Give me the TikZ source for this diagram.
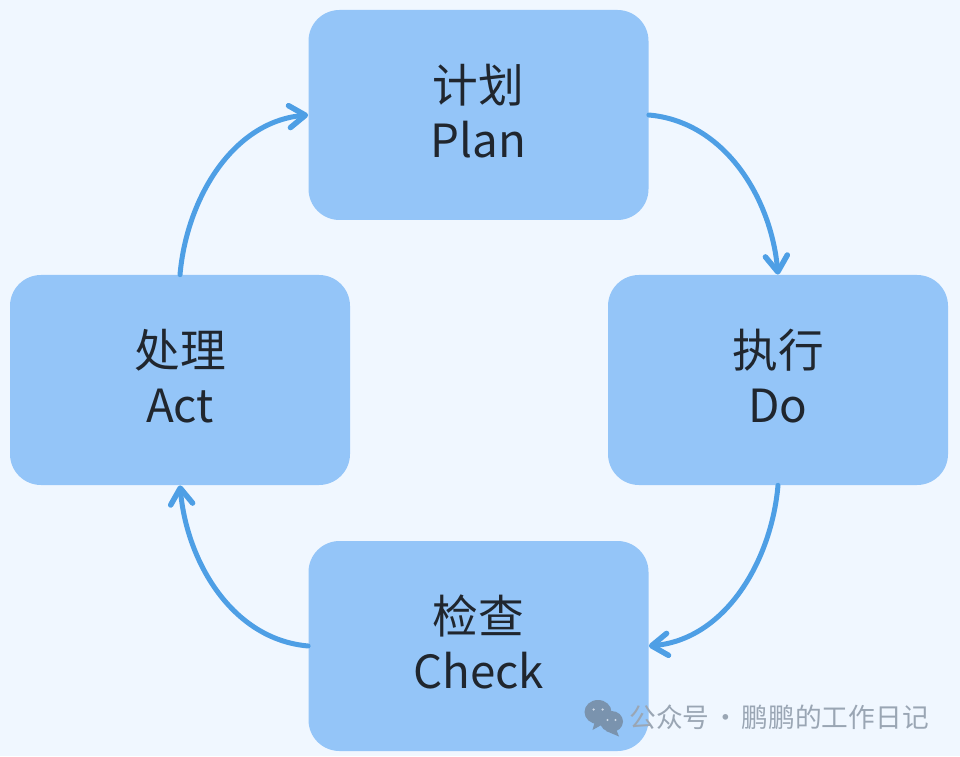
\documentclass[tikz,border=0pt]{standalone}
\usepackage{fontspec}
\setmainfont{Noto Sans CJK SC}
\usetikzlibrary{arrows.meta}
\definecolor{pagebg}{HTML}{F0F7FF}
\definecolor{boxfill}{HTML}{94C5F8}
\definecolor{linkblue}{HTML}{4E9FE5}
\definecolor{inktext}{HTML}{20262E}
\definecolor{marktext}{HTML}{9AA6B4}
\definecolor{markicon}{HTML}{7A93AE}
\tikzset{
    stagebox/.style={fill=boxfill,rounded corners=.62cm,minimum width=6.8cm,minimum height=4.2cm,inner sep=0pt},
    stagelabel/.style={align=center,text=inktext,font=\fontsize{26}{31}\selectfont,inner sep=0pt,yshift=2.3pt},
    link/.style={draw=linkblue,line width=1mm,line cap=round,looseness=.95,
        -{Straight Barb[length=3.2mm,width=4.4mm,line width=1.1mm,round]}},
}
\begin{document}
\begin{tikzpicture}
    \fill[pagebg] (0,0) rectangle (19.2,15.12);
    \useasboundingbox (0,0) rectangle (19.2,15.12);
    \node[stagebox,label={[stagelabel]center:{计划\\Plan}}] (plan) at (9.57,12.82) {};
    \node[stagebox,label={[stagelabel]center:{执行\\Do}}] (do) at (15.56,7.52) {};
    \node[stagebox,label={[stagelabel]center:{检查\\Check}}] (check) at (9.57,2.2) {};
    \node[stagebox,label={[stagelabel]center:{处理\\Act}}] (act) at (3.6,7.52) {};
    \draw[link] (plan.east) to[out=-5,in=95] (do.north);
    \draw[link] (do.south) to[out=-95,in=5] (check.east);
    \draw[link] (check.west) to[out=175,in=-85] (act.south);
    \draw[link] (act.north) to[out=85,in=185] (plan.west);
    % watermark
    \fill[markicon] (11.96,.88) ellipse (.27 and .24);
    \fill[markicon] (11.9,.7) -- (11.85,.52) -- (12.1,.66) -- cycle;
    \fill[markicon] (12.23,.69) ellipse (.23 and .21);
    \fill[markicon] (12.32,.54) -- (12.38,.39) -- (12.12,.5) -- cycle;
    \fill[pagebg!70!markicon] (11.87,.93) circle (.025) (12.05,.93) circle (.025) (12.15,.72) circle (.022) (12.31,.72) circle (.022);
    \node[anchor=west,text=marktext,inner sep=0pt,font=\fontsize{15.2}{16}\selectfont] (mark) at (12.58,.77) {公众号\hspace{1.6pt}·\hspace{1.6pt}鹏鹏的工作日记};
\end{tikzpicture}
\end{document}
